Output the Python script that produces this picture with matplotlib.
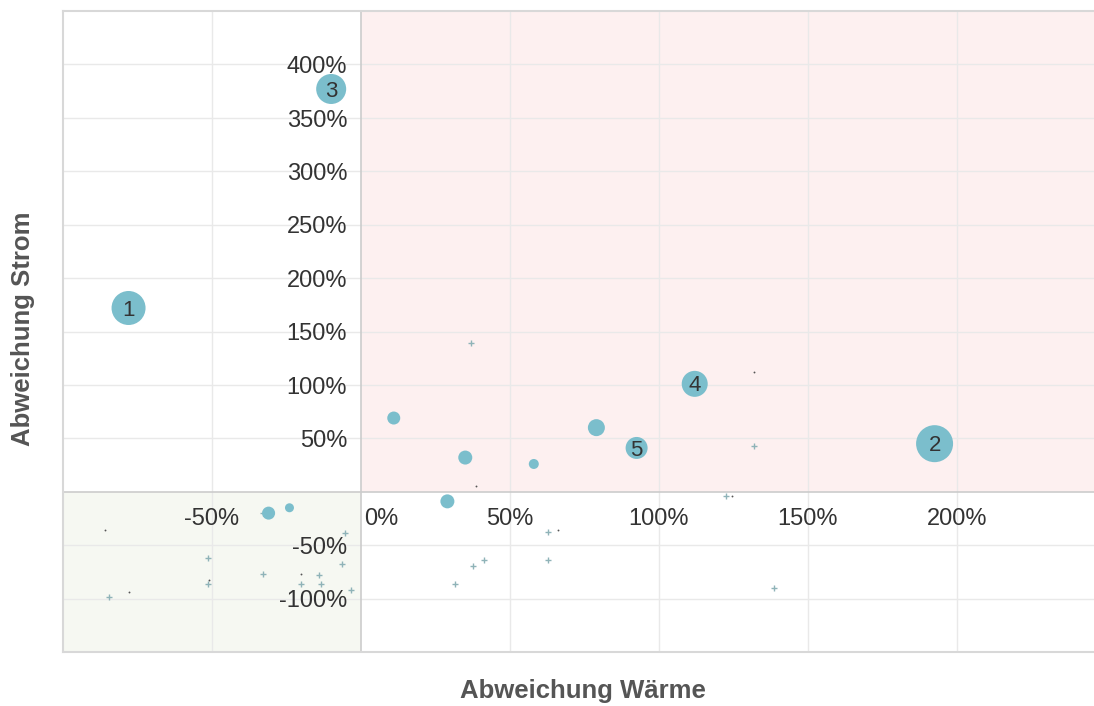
import numpy as np
import matplotlib
matplotlib.use('Agg')
import matplotlib.pyplot as plt

plt.rcParams['font.family'] = ['Liberation Sans', 'DejaVu Sans']

# numbered bubbles (x = Abweichung Wärme %, y = Abweichung Strom %)
lab_names = ['1', '2', '3', '4', '5']
lab_x = [-78, 192.5, -10, 112, 92.5]
lab_y = [172, 45, 377, 101, 41]
lab_size = [34, 37, 30, 26, 22]

# unlabeled bubbles
bub_x = [11, 35, 58, 79, 29, -31, -24]
bub_y = [69, 32, 26, 60, -9, -20, -15]
bub_size = [13, 14, 10, 17, 14, 13, 9]

# very small values (plus markers)
plus_x = [37, 132, 122.6, 62.6, 41.4, 37.7, 31.6, 62.6, 138.7,
          -51.5, -51.5, -84.5, -33, -20, -13.5, -3.4, -6.4, -5.4, -33, -14]
plus_y = [139, 43, -3.8, -37.5, -64, -69.5, -86.5, -64, -90,
          -62, -86, -98.5, -77, -86, -86, -92, -67.5, -39, -20, -78]

# tiny dots
dot_x = [132, 38.7, 124.6, 66, -86, -78, -20, -51]
dot_y = [112.5, 5.6, -3.8, -36, -36, -94, -77, -83]

xticks = [-50, 0, 50, 100, 150, 200]
yticks = [-100, -50, 50, 100, 150, 200, 250, 300, 350, 400]

fig = plt.figure(figsize=(10.94, 7.06), dpi=100)
ax = fig.add_axes([63/1094, 1-652/706, 1-63/1094, (652-11)/706])
xmin, xmax, ymin, ymax = -100, 246, -150, 450
ax.set_xlim(xmin, xmax)
ax.set_ylim(ymin, ymax)

# quadrant shading
ax.fill_between([0, xmax], 0, ymax, color='#fdf0f0', zorder=0, lw=0)
ax.fill_between([xmin, 0], ymin, 0, color='#f6f8f2', zorder=0, lw=0)

for v in [-50, 50, 100, 150, 200]:
    ax.axvline(v, color='#e9e9e9', lw=1, zorder=1)
for v in [-100, -50, 50, 100, 150, 200, 250, 300, 350, 400]:
    ax.axhline(v, color='#e9e9e9', lw=1, zorder=1)
ax.axvline(0, color='#cccccc', lw=1.2, zorder=2)
ax.axhline(0, color='#cccccc', lw=1.2, zorder=2)

for s in ['left', 'top', 'bottom']:
    ax.spines[s].set_color('#d8d8d8')
    ax.spines[s].set_linewidth(1.5)
ax.spines['right'].set_visible(False)
ax.set_xticks([])
ax.set_yticks([])

bcol = '#7bbecc'
ax.scatter(bub_x, bub_y, s=(np.array(bub_size) * 0.72) ** 2, color=bcol, lw=0, zorder=4)
ax.scatter(lab_x, lab_y, s=(np.array(lab_size) * 0.72) ** 2, color=bcol, lw=0, zorder=4)
for n, x, y in zip(lab_names, lab_x, lab_y):
    ax.annotate(n, (x, y), xytext=(0, -1.5), textcoords='offset points',
                ha='center', va='center', fontsize=16, color='#333333', zorder=5)
ax.scatter(plus_x, plus_y, marker='+', s=20, color='#8fb3b8', lw=1, zorder=3)
ax.scatter(dot_x, dot_y, marker='o', s=1.8, color='#555555', lw=0, zorder=3)

# tick labels placed on the axes crossing at zero
for v in xticks:
    if v == 0:
        ax.annotate(f'{v}%', (v, 0), xytext=(2.5, -19.5), textcoords='offset points',
                    ha='left', va='center', fontsize=17, color='#333333', zorder=6)
    else:
        ax.annotate(f'{v}%', (v, 0), xytext=(0, -19.5), textcoords='offset points',
                    ha='center', va='center', fontsize=17, color='#333333', zorder=6)
for v in yticks:
    ax.annotate(f'{v}%', (0, v), xytext=(-10, -2), textcoords='offset points',
                ha='right', va='center', fontsize=17, color='#333333', zorder=6)

fig.text(583/1094, 1-691/706, 'Abweichung Wärme', ha='center', va='center',
         fontsize=18.5, fontweight='bold', color='#555555')
fig.text(23/1094, 1-329/706, 'Abweichung Strom', ha='center', va='center',
         rotation=90, fontsize=18.5, fontweight='bold', color='#555555')

fig.savefig('out.png', dpi=100)
